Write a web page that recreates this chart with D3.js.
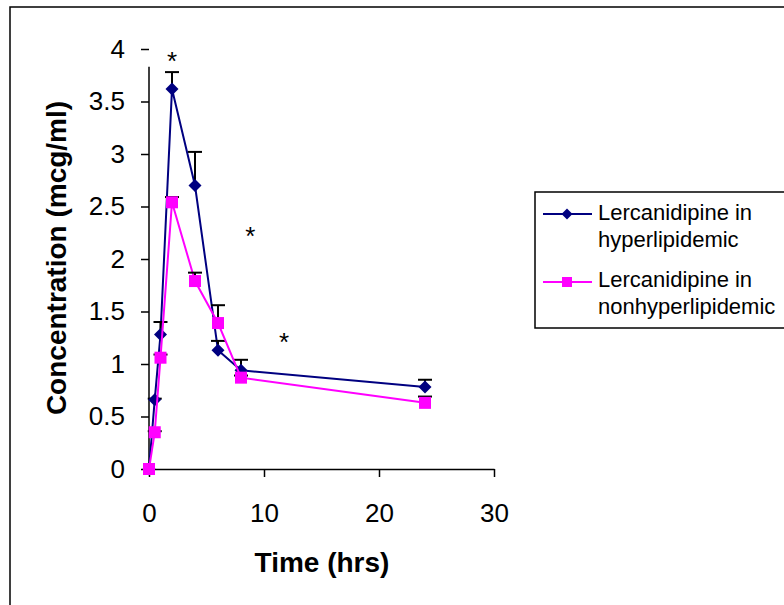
<!DOCTYPE html>
<html>
<head>
<meta charset="utf-8">
<script src="https://cdn.jsdelivr.net/npm/d3@7"></script>
<style>
  body { margin: 0; background: #fff; }
  svg { display: block; font-family: "Liberation Sans", Arial, sans-serif; }
</style>
</head>
<body>
<div id="chart"></div>
<script>
// sampling times (hrs)
const times = [0, 0.5, 1, 2, 4, 6, 8, 24];

// mean concentration and upper error (mcg/ml)
const hyperMean = [0, 0.66, 1.28, 3.62, 2.70, 1.13, 0.94, 0.78];
const hyperErr  = [0, 0.01, 0.12, 0.16, 0.32, 0.09, 0.10, 0.07];
const nonMean   = [0, 0.35, 1.06, 2.54, 1.79, 1.39, 0.87, 0.63];
const nonErr    = [0, 0.01, 0.03, 0.05, 0.08, 0.17, 0.02, 0.06];

const seriesNames = ["Lercanidipine in hyperlipidemic", "Lercanidipine in nonhyperlipidemic"];

// significance marks (time, concentration)
const starX = [2, 8.8, 11.75];
const starY = [3.94, 2.28, 1.27];

const xTicks = [0, 10, 20, 30];
const yTicks = [0, 0.5, 1, 1.5, 2, 2.5, 3, 3.5, 4];

const W = 784, H = 605;

const svg = d3.select("#chart").append("svg")
    .attr("width", W)
    .attr("height", H);

// outer frame (runs off the right and bottom edge)
svg.append("rect")
    .attr("x", 10).attr("y", 7)
    .attr("width", 800).attr("height", 620)
    .attr("fill", "none")
    .attr("stroke", "#000")
    .attr("stroke-width", 1.5);

const x = d3.scaleLinear().domain([0, 30]).range([149, 494]);
const y = d3.scaleLinear().domain([0, 4]).range([469, 49]);

// x axis
const gx = svg.append("g")
    .attr("transform", `translate(0,${y(0)})`)
    .call(d3.axisBottom(x).tickValues(xTicks).tickSize(8).tickSizeOuter(0).tickPadding(27));
gx.select(".domain").attr("stroke-width", 1.5);
gx.selectAll(".tick line").attr("stroke-width", 1.5);
gx.selectAll("text").attr("font-size", 26).attr("fill", "#000")
    .attr("font-family", "Liberation Sans, Arial, sans-serif");

// y axis
const gy = svg.append("g")
    .attr("transform", `translate(${x(0)},0)`)
    .call(d3.axisLeft(y).tickValues(yTicks).tickSize(8).tickPadding(16).tickFormat(d3.format("")));
gy.select(".domain").remove();
gy.selectAll(".tick line").attr("stroke-width", 1.5);
gy.selectAll("text").attr("font-size", 26).attr("fill", "#000")
    .attr("font-family", "Liberation Sans, Arial, sans-serif");
// the axis line stops short of the top tick in the original
gy.append("line")
    .attr("x1", 0).attr("x2", 0)
    .attr("y1", y(0)).attr("y2", y(3.83))
    .attr("stroke", "#000").attr("stroke-width", 1.5);

// axis titles
svg.append("text")
    .attr("x", 322).attr("y", 572)
    .attr("text-anchor", "middle")
    .attr("font-size", 28).attr("font-weight", "bold")
    .text("Time (hrs)");

svg.append("text")
    .attr("transform", "translate(66,258) rotate(-90)")
    .attr("text-anchor", "middle")
    .attr("font-size", 28).attr("font-weight", "bold")
    .text("Concentration (mcg/ml)");

const diamond = s => `M0,${-s}L${s},0L0,${s}L${-s},0Z`;

function drawSeries(mean, err, color, marker) {
    const pts = times.map((t, i) => ({ t: t, v: mean[i], e: err[i] }));
    const g = svg.append("g");

    g.append("path")
        .datum(pts)
        .attr("fill", "none")
        .attr("stroke", color)
        .attr("stroke-width", 2)
        .attr("d", d3.line().x(d => x(d.t)).y(d => y(d.v)));

    // upper error bars
    const eb = g.selectAll(".eb").data(pts.filter(d => d.e > 0)).enter().append("g");
    eb.append("line")
        .attr("x1", d => x(d.t)).attr("x2", d => x(d.t))
        .attr("y1", d => y(d.v)).attr("y2", d => y(d.v + d.e))
        .attr("stroke", "#000").attr("stroke-width", 2);
    eb.append("line")
        .attr("x1", d => x(d.t) - 7).attr("x2", d => x(d.t) + 7)
        .attr("y1", d => y(d.v + d.e)).attr("y2", d => y(d.v + d.e))
        .attr("stroke", "#000").attr("stroke-width", 2);

    if (marker === "diamond") {
        g.selectAll(".mk").data(pts).enter().append("path")
            .attr("transform", d => `translate(${x(d.t)},${y(d.v)})`)
            .attr("d", diamond(6.5))
            .attr("fill", color);
    } else {
        g.selectAll(".mk").data(pts).enter().append("rect")
            .attr("x", d => x(d.t) - 6).attr("y", d => y(d.v) - 6)
            .attr("width", 12).attr("height", 12)
            .attr("fill", color);
    }
}

drawSeries(hyperMean, hyperErr, "#000080", "diamond");
drawSeries(nonMean, nonErr, "#FF00FF", "square");

// asterisks
svg.selectAll(".star").data(starX.map((s, i) => [s, starY[i]])).enter().append("text")
    .attr("x", d => x(d[0]))
    .attr("y", d => y(d[1]) + 15)
    .attr("text-anchor", "middle")
    .attr("font-size", 26)
    .text("*");

// legend
const lg = svg.append("g");
lg.append("rect")
    .attr("x", 535).attr("y", 192)
    .attr("width", 300).attr("height", 136)
    .attr("fill", "#fff")
    .attr("stroke", "#000").attr("stroke-width", 1.5);

const legendRows = [
    { color: "#000080", marker: "diamond", ly: 214, lines: ["Lercanidipine in", "hyperlipidemic"], base: 220 },
    { color: "#FF00FF", marker: "square", ly: 282, lines: ["Lercanidipine in", "nonhyperlipidemic"], base: 287 }
];
legendRows.forEach((r, i) => {
    lg.append("line")
        .attr("x1", 543).attr("x2", 592)
        .attr("y1", r.ly).attr("y2", r.ly)
        .attr("stroke", r.color).attr("stroke-width", 2);
    if (r.marker === "diamond") {
        lg.append("path").attr("transform", `translate(567,${r.ly})`)
            .attr("d", diamond(5.5)).attr("fill", r.color);
    } else {
        lg.append("rect").attr("x", 562).attr("y", r.ly - 5)
            .attr("width", 10).attr("height", 10).attr("fill", r.color);
    }
    const t = lg.append("text").attr("x", 598).attr("y", r.base)
        .attr("font-size", 22).attr("fill", "#000")
        .attr("aria-label", seriesNames[i]);
    r.lines.forEach((s, k) => {
        t.append("tspan").attr("x", 598).attr("y", r.base + k * 26.5).text(s);
    });
});
</script>
</body>
</html>
